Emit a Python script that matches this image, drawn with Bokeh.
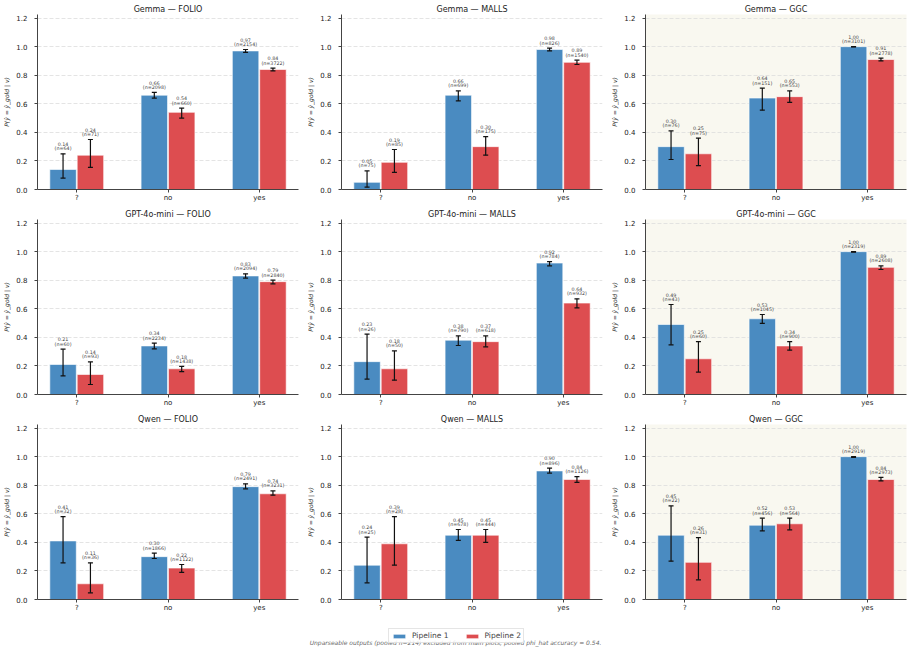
import numpy as np
from bokeh.plotting import figure
from bokeh.layouts import gridplot, column
from bokeh.models import (ColumnDataSource, Whisker, TeeHead, FixedTicker, PrintfTickFormatter,
                          Range1d, Legend, LegendItem, Label)
from bokeh.core.properties import value
from bokeh.embed import file_html
from bokeh.resources import INLINE

categories = ["?", "no", "yes"]
models = ["Gemma", "GPT-4o-mini", "Qwen"]
datasets = ["FOLIO", "MALLS", "GGC"]
pipelines = ["Pipeline 1", "Pipeline 2"]
y_ticks = [0.0, 0.2, 0.4, 0.6, 0.8, 1.0, 1.2]

# rows: Gemma-FOLIO, Gemma-MALLS, Gemma-GGC, GPT-FOLIO, ..., Qwen-GGC ; cols: ?, no, yes
p1_acc = [
    [0.14, 0.66, 0.97], [0.05, 0.66, 0.98], [0.30, 0.64, 1.00],
    [0.21, 0.34, 0.83], [0.23, 0.38, 0.92], [0.49, 0.53, 1.00],
    [0.41, 0.30, 0.79], [0.24, 0.45, 0.90], [0.45, 0.52, 1.00],
]
p1_lo = [
    [0.08, 0.64, 0.96], [0.016, 0.62, 0.97], [0.21, 0.555, 0.998],
    [0.13, 0.32, 0.815], [0.108, 0.343, 0.90], [0.348, 0.498, 0.997],
    [0.257, 0.287, 0.775], [0.117, 0.414, 0.885], [0.268, 0.48, 0.994],
]
p1_hi = [
    [0.25, 0.68, 0.98], [0.13, 0.69, 0.99], [0.41, 0.71, 1.0],
    [0.317, 0.36, 0.845], [0.423, 0.41, 0.93], [0.63, 0.56, 1.0],
    [0.58, 0.325, 0.81], [0.437, 0.49, 0.92], [0.655, 0.569, 1.0],
]
p1_n = [
    [64, 2098, 2154], [75, 699, 826], [76, 151, 3101],
    [60, 2234, 2094], [26, 790, 784], [43, 1045, 2319],
    [32, 1866, 2491], [25, 678, 896], [22, 456, 2919],
]
p2_acc = [
    [0.24, 0.54, 0.84], [0.19, 0.30, 0.89], [0.25, 0.65, 0.91],
    [0.14, 0.18, 0.79], [0.18, 0.37, 0.64], [0.25, 0.34, 0.89],
    [0.11, 0.22, 0.74], [0.39, 0.45, 0.84], [0.26, 0.53, 0.84],
]
p2_lo = [
    [0.155, 0.50, 0.83], [0.12, 0.24, 0.875], [0.167, 0.61, 0.90],
    [0.07, 0.16, 0.775], [0.10, 0.334, 0.606], [0.157, 0.31, 0.875],
    [0.047, 0.19, 0.73], [0.24, 0.40, 0.82], [0.138, 0.487, 0.83],
]
p2_hi = [
    [0.35, 0.57, 0.85], [0.28, 0.37, 0.905], [0.36, 0.69, 0.92],
    [0.228, 0.197, 0.80], [0.305, 0.41, 0.67], [0.37, 0.37, 0.90],
    [0.257, 0.245, 0.76], [0.58, 0.49, 0.86], [0.433, 0.57, 0.855],
]
p2_n = [
    [71, 660, 3722], [85, 175, 1540], [75, 553, 2778],
    [93, 1438, 2840], [50, 618, 932], [60, 900, 2608],
    [36, 1122, 3231], [28, 444, 1126], [31, 564, 2973],
]

footer_text = ("Unparseable outputs (pooled n=214) excluded from main plots; "
               "pooled phi_hat accuracy = 0.54.")

BLUE = "#4a8bc1"
RED = "#dd4d50"
FONT = "DejaVu Sans"
BAR_W = 0.29
OFF = 0.15

figs = []
for i, m in enumerate(models):
    for j, d in enumerate(datasets):
        k = i * len(datasets) + j
        p = figure(width=304, height=205, x_range=Range1d(-0.43, 2.43), y_range=Range1d(0, 1.225),
                   output_backend="svg", toolbar_location=None, title=f"{m} — {d}",
                   min_border_left=36, min_border_right=6, min_border_top=14, min_border_bottom=16)
        p.title.align = "center"
        p.title.text_font = FONT
        p.title.text_font_size = "8px"
        p.title.text_font_style = "normal"
        p.title.text_color = "#222222"
        p.title.standoff = 2
        p.outline_line_color = None
        p.border_fill_color = "white"
        if d == "GGC":
            p.background_fill_color = "#f9f8f0"

        xs = np.arange(len(categories))
        series = [(p1_acc, p1_lo, p1_hi, p1_n, BLUE, -OFF), (p2_acc, p2_lo, p2_hi, p2_n, RED, OFF)]
        for acc, lo, hi, nn, col, off in series:
            src = ColumnDataSource(dict(
                x=xs + off, top=acc[k], lo=lo[k], hi=hi[k],
                vlab=[f"{v:.2f}" for v in acc[k]],
                nlab=[f"(n={n})" for n in nn[k]],
            ))
            p.vbar(x="x", top="top", width=BAR_W, source=src, fill_color=col,
                   line_color="white", line_width=1, line_alpha=0.6)
            w = Whisker(base="x", lower="lo", upper="hi", source=src, line_color="#111111",
                        line_width=1.2, level="overlay",
                        upper_head=TeeHead(size=5, line_color="#111111", line_width=1.2),
                        lower_head=TeeHead(size=5, line_color="#111111", line_width=1.2))
            p.add_layout(w)
            p.text(x="x", y="hi", text="nlab", source=src, text_font=value(FONT),
                   text_font_size="4.8px", text_align="center", text_baseline="bottom",
                   y_offset=-2.5, text_color="#444444")
            p.text(x="x", y="hi", text="vlab", source=src, text_font=value(FONT),
                   text_font_size="4.8px", text_align="center", text_baseline="bottom",
                   y_offset=-7.8, text_color="#444444")

        p.xaxis.ticker = FixedTicker(ticks=list(range(len(categories))))
        p.xaxis.major_label_overrides = {t: c for t, c in enumerate(categories)}
        p.yaxis.ticker = FixedTicker(ticks=y_ticks)
        p.yaxis.formatter = PrintfTickFormatter(format="%.1f")
        p.yaxis.axis_label = "P(ŷ = ŷ_gold | v)"
        p.yaxis.axis_label_text_font = FONT
        p.yaxis.axis_label_text_font_size = "6px"
        p.yaxis.axis_label_text_font_style = "italic"
        p.yaxis.axis_label_text_color = "#222222"
        p.yaxis.axis_label_standoff = 3
        for ax in (p.xaxis, p.yaxis):
            ax.axis_line_color = "#444444"
            ax.axis_line_width = 1
            ax.major_tick_line_color = "#444444"
            ax.major_tick_out = 3
            ax.major_tick_in = 0
            ax.minor_tick_line_color = None
            ax.major_label_text_font = FONT
            ax.major_label_text_font_size = "7px"
            ax.major_label_text_color = "#222222"
        p.xaxis.major_label_standoff = 1
        p.yaxis.major_label_standoff = 7
        p.xgrid.grid_line_color = None
        p.ygrid.grid_line_color = "#dddddd"
        p.ygrid.grid_line_dash = "4 2"
        p.ygrid.grid_line_width = 0.8
        figs.append(p)

grid = gridplot(figs, ncols=3, toolbar_location=None)

foot = figure(width=912, height=37, output_backend="svg", toolbar_location=None,
              x_range=Range1d(0, 1), y_range=Range1d(0, 1), min_border=0)
foot.axis.visible = False
foot.grid.visible = False
foot.outline_line_color = None
# legend proxies: no visible data (NaN), only used to draw legend swatches
r1 = foot.vbar(x=[np.nan], top=[np.nan], width=0.1, fill_color=BLUE, line_color="white")
r2 = foot.vbar(x=[np.nan], top=[np.nan], width=0.1, fill_color=RED, line_color="white")
foot.add_layout(Label(x=455, y=10.3, x_units="screen", y_units="screen", text=footer_text,
                      text_font=FONT, text_font_size="6px", text_font_style="italic",
                      text_color="#666666", text_align="center", text_baseline="middle",
                      level="annotation"))
leg = Legend(items=[LegendItem(label=pipelines[0], renderers=[r1]),
                    LegendItem(label=pipelines[1], renderers=[r2])],
             orientation="horizontal", location=(388, 9), level="overlay")
leg.label_text_font = FONT
leg.label_text_font_size = "7.5px"
leg.label_height = 8
leg.label_width = 0
leg.glyph_width = 16
leg.glyph_height = 6
leg.label_standoff = 5
leg.spacing = 15
leg.padding = 2
leg.margin = 0
leg.border_line_color = "#cccccc"
leg.background_fill_alpha = 0.85
foot.add_layout(leg)

layout = column(grid, foot)
open("out.html", "w").write(file_html(layout, INLINE))
